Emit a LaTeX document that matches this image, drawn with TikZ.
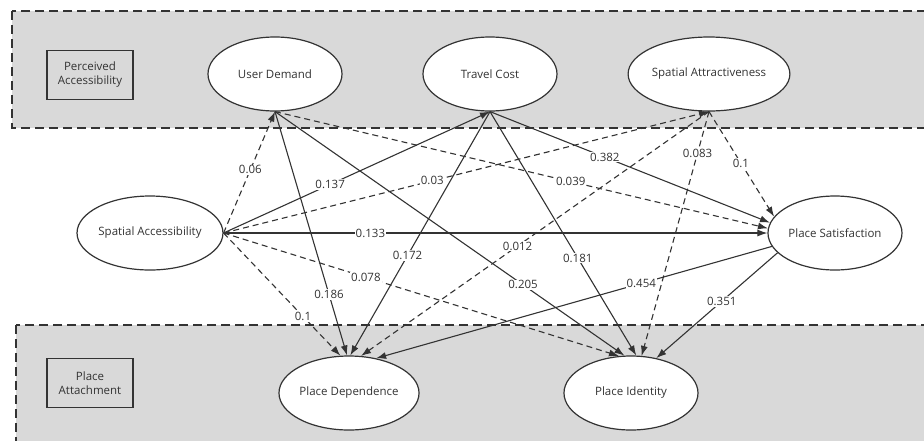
\documentclass[tikz,border=0pt]{standalone}
\usepackage{fontspec}
\setmainfont{Open Sans}
\usepackage{tikz}
\usetikzlibrary{arrows.meta, shapes.geometric}
\definecolor{linegray}{HTML}{333333}
\definecolor{boxgray}{HTML}{D9D9D9}

\begin{document}
\begin{tikzpicture}[
    x=1pt, y=-1pt,
    latent/.style={
        ellipse,
        draw=linegray,
        line width=1.2pt,
        fill=white,
        minimum width=134pt,
        minimum height=74pt,
        inner sep=0pt,
        text=linegray,
        font=\fontsize{11.5}{13}\selectfont
    },
    tag/.style={
        rectangle,
        draw=linegray,
        line width=1.2pt,
        minimum width=86pt,
        minimum height=49pt,
        inner sep=1pt,
        align=center,
        text=linegray,
        font=\fontsize{11.5}{14}\selectfont
    },
    group/.style={
        draw=linegray,
        fill=boxgray,
        line width=1.2pt,
        dash pattern=on 9pt off 5pt
    },
    effect/.style={-{Latex[length=10pt,width=7pt]}, draw=linegray, line width=1.1pt},
    weak/.style={effect, dash pattern=on 6pt off 4pt},
    coef/.style={fill=white, inner sep=1pt, text=linegray, font=\fontsize{11.5}{13}\selectfont}
]
\clip (0,0) rectangle (924,440);

% Groups
\draw[group] (12,11) rectangle (940,128);
\draw[group] (16,325) rectangle (940,460);
\node[tag] (tpa) at (90,75) {Perceived\\Accessibility};
\node[tag] (tpt) at (90,383) {Place\\Attachment};

% Latent variables
\node[latent] (ud) at (275,74) {User Demand};
\node[latent] (tc) at (490,74) {Travel Cost};
\node[latent, minimum width=141pt] (sat) at (709,74) {Spatial Attractiveness};
\node[latent] (spa) at (150,233) {Spatial Accessibility};
\node[latent] (ps) at (835,233) {Place Satisfaction};
\node[latent] (pd) at (349,393) {Place Dependence};
\node[latent] (pi) at (631,393) {Place Identity};

% Paths from Spatial Accessibility
\draw[weak] (spa.east) -- node[coef, pos=0.52] {0.06} (ud.south);
\draw[effect] (spa.east) -- node[coef, pos=0.40] {0.137} (tc.south);
\draw[weak] (spa.east) -- node[coef, pos=0.43] {0.03} (sat.south);
\draw[effect] (spa.east) -- node[coef, pos=0.27] {0.133} (ps.180);
\draw[weak] (spa.east) -- node[coef, pos=0.68] {0.1} (pd.103);
\draw[weak] (spa.east) -- node[coef, pos=0.36] {0.078} (pi.108);

% Paths from User Demand
\draw[effect] (ud.south) -- node[coef, pos=0.75] {0.186} (pd.93);
\draw[effect] (ud.south) -- node[coef, pos=0.71] {0.205} (pi.100);
\draw[weak] (ud.south) -- node[coef, pos=0.60] {0.039} (ps.176);

% Paths from Travel Cost
\draw[effect] (tc.south) -- node[coef, pos=0.59] {0.172} (pd.88);
\draw[effect] (tc.south) -- node[coef, pos=0.60] {0.181} (pi.82);
\draw[effect] (tc.south) -- node[coef, pos=0.41] {0.382} (ps.171);

% Paths from Spatial Attractiveness
\draw[weak] (sat.south) -- node[coef, pos=0.55] {0.012} (pd.72);
\draw[weak] (sat.south) -- node[coef, pos=0.17] {0.083} (pi.74);
\draw[weak] (sat.south) -- node[coef, pos=0.49] {0.1} (ps.165);

% Paths from Place Satisfaction
\draw[effect] (ps.192) -- node[coef, pos=0.33] {0.454} (pd.52);
\draw[effect] (ps.199) -- node[coef, pos=0.46] {0.351} (pi.54);

\end{tikzpicture}
\end{document}
